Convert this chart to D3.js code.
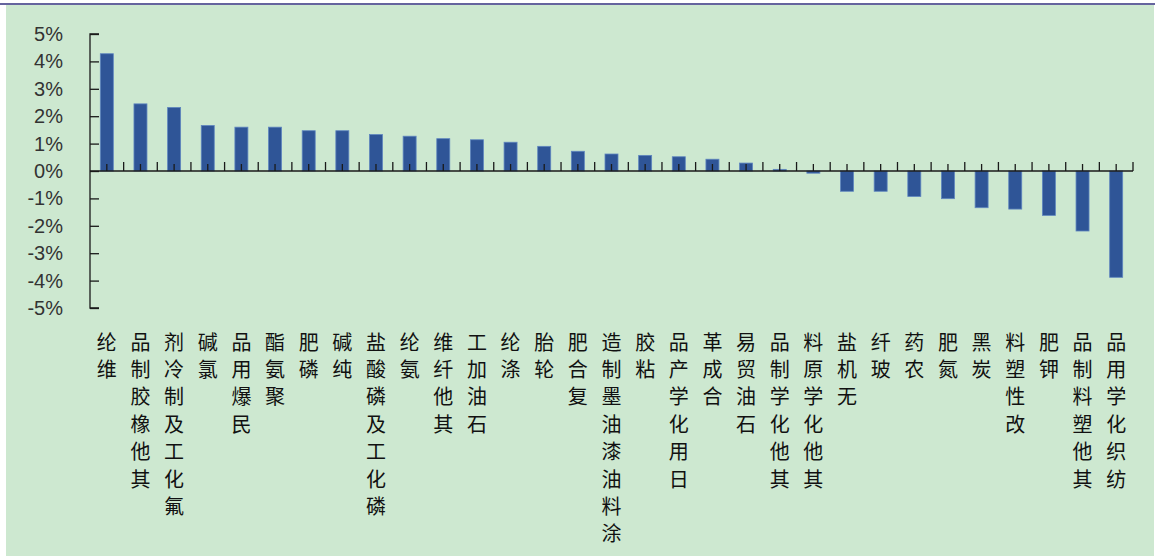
<!DOCTYPE html>
<html>
<head>
<meta charset="utf-8">
<script src="https://cdn.jsdelivr.net/npm/d3@7"></script>
<style>
  html, body { margin: 0; padding: 0; background: #ffffff; }
  svg { display: block; }
</style>
</head>
<body>
<svg id="chart" width="1155" height="556"></svg>
<script>
const categories = ["维纶","其他橡胶制品","氟化工及制冷剂","氯碱","民爆用品","聚氨酯","磷肥","纯碱","磷化工及磷酸盐","氨纶","其他纤维","石油加工","涤纶","轮胎","复合肥","涂料油漆油墨制造","粘胶","日用化学产品","合成革","石油贸易","其他化学制品","其他化学原料","无机盐","玻纤","农药","氮肥","炭黑","改性塑料","钾肥","其他塑料制品","纺织化学用品"];
const values = [4.28,2.45,2.32,1.66,1.60,1.60,1.47,1.47,1.33,1.27,1.18,1.14,1.05,0.90,0.72,0.62,0.57,0.52,0.43,0.29,0.06,-0.08,-0.74,-0.74,-0.93,-1.01,-1.34,-1.39,-1.62,-2.19,-3.88];
const yTicks = [5,4,3,2,1,0,-1,-2,-3,-4,-5];

const svg = d3.select("#chart");
const W = 1155, H = 556;

// frame
svg.append("rect").attr("x", 6).attr("y", 5).attr("width", W - 7).attr("height", H - 5).attr("fill", "#cde8d0");
svg.append("rect").attr("x", 0).attr("y", 3).attr("width", W).attr("height", 2).attr("fill", "#65649e");

const left = 90, right = 1133;
const x = d3.scaleBand().domain(categories).range([left, right]).paddingInner(0).paddingOuter(0);
const y = d3.scaleLinear().domain([-5, 5]).range([308, 34]);
const barW = 13;

// bars
svg.append("g").selectAll("rect").data(categories).join("rect")
  .attr("x", d => x(d) + x.bandwidth() / 2 - barW / 2)
  .attr("y", (d, i) => y(Math.max(0, values[i])))
  .attr("width", barW)
  .attr("height", (d, i) => Math.abs(y(values[i]) - y(0)))
  .attr("fill", "#2f5597")
  .attr("stroke", "#5f86bf")
  .attr("stroke-width", 0.8);

// y axis
const yAxis = d3.axisRight(y).tickValues(yTicks).tickSize(9).tickFormat("");
const gy = svg.append("g").attr("transform", `translate(${left},0)`).call(yAxis);
gy.select(".domain").attr("stroke", "#1a1a1a").attr("stroke-width", 1.3).attr("d", `M9,${y(5)}H0V${y(-5)}H9`);
gy.selectAll(".tick line").attr("stroke", "#1a1a1a").attr("stroke-width", 1.3);

svg.append("g").selectAll("text").data(yTicks).join("text")
  .attr("x", 63).attr("y", d => y(d))
  .attr("dy", "0.35em")
  .attr("text-anchor", "end")
  .attr("font-family", "'Liberation Sans', Arial, sans-serif")
  .attr("font-size", 20)
  .attr("fill", "#333333")
  .text(d => d + "%");

// x axis line at zero
const gx = svg.append("g");
gx.append("line").attr("x1", left).attr("x2", right).attr("y1", y(0)).attr("y2", y(0))
  .attr("stroke", "#1a1a1a").attr("stroke-width", 1.3);
// boundary ticks
gx.selectAll("line.b").data(categories).join("line").attr("class", "b")
  .attr("x1", d => x(d) + x.bandwidth()).attr("x2", d => x(d) + x.bandwidth())
  .attr("y1", y(0)).attr("y2", y(0) - 9)
  .attr("stroke", "#1a1a1a").attr("stroke-width", 1.3);
// centre ticks
gx.selectAll("line.c").data(categories).join("line").attr("class", "c")
  .attr("x1", d => x(d) + x.bandwidth() / 2).attr("x2", d => x(d) + x.bandwidth() / 2)
  .attr("y1", y(0)).attr("y2", y(0) - 7)
  .attr("stroke", "#1a1a1a").attr("stroke-width", 1.3);

// vertical category labels: upright characters stacked, read bottom to top
const labelTop = 349.5, pitch = 27.4;
const lg = svg.append("g").attr("font-family", "'Noto Sans CJK SC', sans-serif").attr("font-size", 20).attr("fill", "#111111");
categories.forEach(c => {
  const cx = x(c) + x.bandwidth() / 2;
  const chars = Array.from(c).reverse();
  lg.append("g").selectAll("text").data(chars).join("text")
    .attr("x", cx).attr("y", (ch, i) => labelTop + i * pitch)
    .attr("text-anchor", "middle")
    .text(ch => ch);
});
</script>
</body>
</html>
